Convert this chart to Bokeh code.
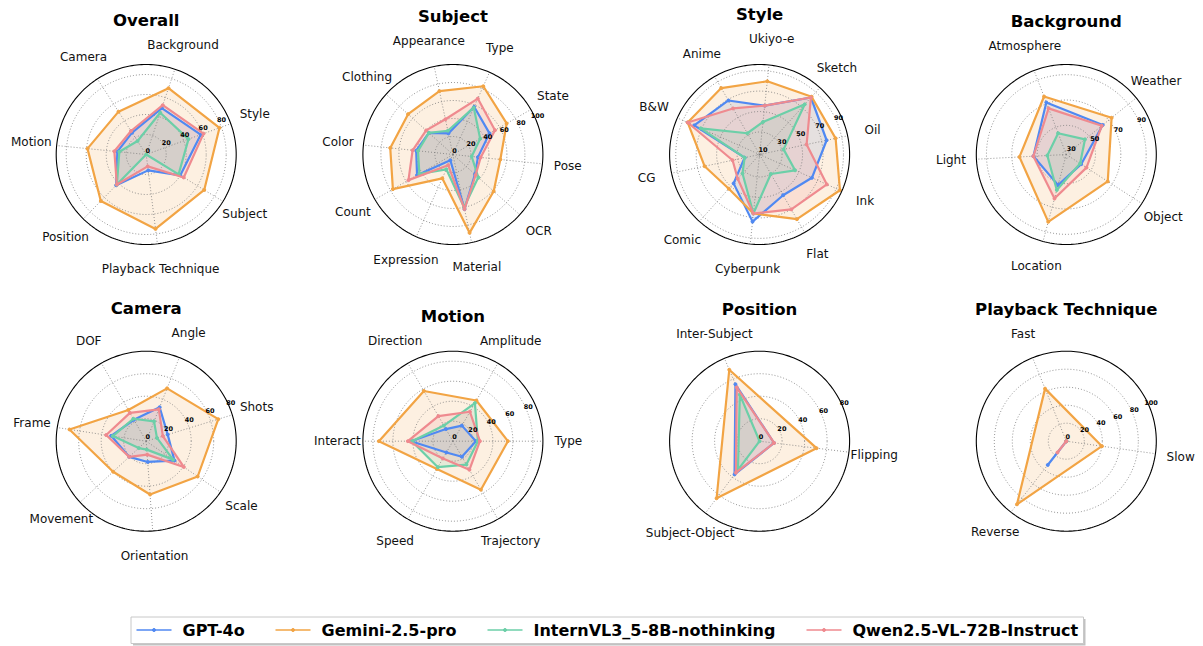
import numpy as np
from bokeh.plotting import figure
from bokeh.models import Range1d
from bokeh.core.properties import value
from bokeh.embed import file_html
from bokeh.resources import INLINE

# ---------------- data ----------------
models = ["GPT-4o", "Gemini-2.5-pro", "InternVL3_5-8B-nothinking", "Qwen2.5-VL-72B-Instruct"]
colors = ["#5089F2", "#F2A444", "#6CCFA8", "#EF8A8F"]

overall_cats = ["Style", "Background", "Camera", "Motion", "Position", "Playback Technique", "Subject"]
overall_gpt = [58, 49, 26, 29, 43, 16, 40]
overall_gemini = [78, 70, 51, 59, 65, 75, 68]
overall_intern = [45, 44, 16, 27, 42, 0, 38]
overall_qwen = [61, 52, 28, 32, 42, 12, 44]

subject_cats = ["Pose", "State", "Type", "Appearance", "Clothing", "Color", "Count", "Expression", "Material", "OCR"]
subject_gpt = [28, 47, 58, 24, 36, 41, 46, 7, 62, 33]
subject_gemini = [53, 69, 83, 72, 67, 70, 77, 29, 89, 61]
subject_intern = [21, 35, 57, 27, 36, 39, 43, 18, 60, 38]
subject_qwen = [31, 54, 68, 40, 40, 45, 57, 13, 62, 34]

style_cats = ["Oil", "Sketch", "Ukiyo-e", "Anime", "B&W", "CG", "Comic", "Cyberpunk", "Flat", "Ink"]
style_gpt = [75, 83, 56, 69, 78, 23, 46, 74, 54, 64]
style_gemini = [84, 84, 80, 83, 85, 63, 53, 66, 81, 94]
style_intern = [32, 74, 40, 32, 71, 23, 33, 66, 30, 46]
style_qwen = [55, 83, 56, 60, 85, 35, 40, 66, 70, 80]

background_cats = ["Weather", "Atmosphere", "Light", "Location", "Object"]
background_gpt = [64, 71, 53, 52, 41]
background_gemini = [73, 76, 64, 82, 66]
background_intern = [46, 45, 42, 56, 40]
background_qwen = [63, 66, 53, 63, 46]

camera_cats = ["Shots", "Angle", "DOF", "Frame", "Movement", "Orientation", "Scale"]
camera_gpt = [20, 32.5, 22, 31.5, 20.5, 18.5, 30.5]
camera_gemini = [67, 50.5, 32, 69, 40, 47.5, 55.5]
camera_intern = [10, 19, 23, 30, 9, 7.5, 29]
camera_qwen = [15.5, 30.5, 29, 36, 20.5, 12, 40.5]

motion_cats = ["Type", "Amplitude", "Direction", "Interact", "Speed", "Trajectory"]
motion_gpt = [23, 18, 14, 42, 13, 18]
motion_gemini = [55, 47, 58, 74, 32, 56]
motion_intern = [25, 44, 18, 41, 30, 27]
motion_qwen = [27, 34, 29, 45, 20, 33]

position_cats = ["Flipping", "Inter-Subject", "Subject-Object"]
position_gpt = [13, 55, 37]
position_gemini = [51, 69, 63.5]
position_intern = [0, 45, 32]
position_qwen = [13, 52, 35]

playback_cats = ["Slow", "Fast", "Reverse"]
playback_gpt = [0, 0, 33.5]
playback_gemini = [40, 63, 89]
playback_intern = [0, 0, 0]
playback_qwen = [0, 0, 16]

overall_ticks = [0, 20, 40, 60, 80]
subject_ticks = [0, 20, 40, 60, 80, 100]
style_ticks = [10, 30, 50, 70, 90]
background_ticks = [30, 50, 70, 90]
camera_ticks = [0, 20, 40, 60, 80]
motion_ticks = [0, 20, 40, 60, 80]
position_ticks = [0, 20, 40, 60, 80]
playback_ticks = [0, 20, 40, 60, 80, 100]

# (title, categories, series, first-axis angle (deg), rmin, rmax, ticks)
panels = [
    ("Overall", overall_cats, [overall_gpt, overall_gemini, overall_intern, overall_qwen], 20, 0, 90, overall_ticks),
    ("Subject", subject_cats, [subject_gpt, subject_gemini, subject_intern, subject_qwen], -6, 0, 100, subject_ticks),
    ("Style", style_cats, [style_gpt, style_gemini, style_intern, style_qwen], 12, 8, 96, style_ticks),
    ("Background", background_cats, [background_gpt, background_gemini, background_intern, background_qwen], 39, 27, 98, background_ticks),
    ("Camera", camera_cats, [camera_gpt, camera_gemini, camera_intern, camera_qwen], 17, 0, 80, camera_ticks),
    ("Motion", motion_cats, [motion_gpt, motion_gemini, motion_intern, motion_qwen], 0, 0, 90, motion_ticks),
    ("Position", position_cats, [position_gpt, position_gemini, position_intern, position_qwen], -7, 0, 80, position_ticks),
    ("Playback Technique", playback_cats, [playback_gpt, playback_gemini, playback_intern, playback_qwen], -8, 0, 100, playback_ticks),
]

# ---------------- layout ----------------
W, H = 1203, 646
p = figure(width=W, height=H, output_backend="svg", toolbar_location=None,
           x_range=Range1d(0, W), y_range=Range1d(H, 0),
           min_border=0, x_axis_type=None, y_axis_type=None)
p.grid.visible = False
p.outline_line_color = None
p.background_fill_color = "white"
p.border_fill_color = "white"

FONT = value("DejaVu Sans")
R = 90.0
centers_x = [145.7 + 306.7 * i for i in range(4)]
centers_y = [154.0, 440.7]
LAB_GAP = 25.5
RL = np.deg2rad(22.5)

for k, (title, cats, series, start, rmin, rmax, ticks) in enumerate(panels):
    cx = centers_x[k % 4]
    cy = centers_y[k // 4]
    n = len(cats)
    ang = np.deg2rad(start) + np.arange(n) * 2 * np.pi / n

    def xy(vals, cx=cx, cy=cy, rmin=rmin, rmax=rmax, ang=ang):
        r = np.clip((np.asarray(vals, float) - rmin) / (rmax - rmin), 0, None) * R
        return cx + r * np.cos(ang), cy - r * np.sin(ang)

    # fills
    for s, col in zip(series, colors):
        x, y = xy(s)
        p.patch(list(x), list(y), fill_color=col, fill_alpha=0.16, line_color=None)

    # grid circles and spokes
    th = np.linspace(0, 2 * np.pi, 241)
    gx, gy = [], []
    for t in ticks:
        if rmin < t < rmax - 1e-9:
            rr = (t - rmin) / (rmax - rmin) * R
            gx.append(list(cx + rr * np.cos(th)))
            gy.append(list(cy - rr * np.sin(th)))
    for a in ang:
        gx.append([cx, cx + R * np.cos(a)])
        gy.append([cy, cy - R * np.sin(a)])
    p.multi_line(gx, gy, line_color="#7a7a7a", line_width=0.8, line_dash="1 2")

    # series outlines
    for s, col in zip(series, colors):
        x, y = xy(s)
        p.line(list(x) + [x[0]], list(y) + [y[0]], line_color=col, line_width=2.2, line_join="round")
        p.scatter(list(x), list(y), size=3, marker="circle", fill_color=col, line_color=col)

    # outer spine
    p.line(list(cx + R * np.cos(th)), list(cy - R * np.sin(th)), line_color="black", line_width=1.1)

    # radial tick labels
    tx, ty, tt = [], [], []
    for t in ticks:
        if t < rmin:
            continue
        rr = (t - rmin) / (rmax - rmin) * R
        tx.append(cx + rr * np.cos(RL) + 1.5)
        ty.append(cy - rr * np.sin(RL) - 4.5)
        tt.append(str(t))
    p.text(tx, ty, text=tt, text_font=FONT, text_font_size=value("6.5px"), text_font_style="bold",
           text_align="center", text_baseline="middle", text_color="black")

    # category labels
    lx = cx + (R + LAB_GAP) * np.cos(ang)
    ly = cy - (R + LAB_GAP) * np.sin(ang) - 0.5
    p.text(list(lx), list(ly), text=list(cats), text_font=FONT, text_font_size=value("12px"),
           text_align="center", text_baseline="middle", text_color="#111111")

    # title
    p.text([cx], [float(ly.min()) - 24.5], text=[title], text_font=FONT, text_font_size=value("16.5px"),
           text_font_style="bold", text_align="center", text_baseline="middle", text_color="black")

# ---------------- legend ----------------
bx0, bx1, by0, by1 = 130.5, 1083, 616.5, 643
p.quad(left=[bx0 + 2], right=[bx1 + 2], top=[by0 + 2], bottom=[by1 + 2],
       fill_color="#9a9a9a", fill_alpha=0.6, line_color=None)
p.quad(left=[bx0], right=[bx1], top=[by0], bottom=[by1],
       fill_color="white", line_color="#c8c8c8", line_width=1)
leg_line_x0 = [136, 275, 487, 806]
leg_y = 629.5
for name, col, x0 in zip(models, colors, leg_line_x0):
    p.line([x0, x0 + 35], [leg_y, leg_y], line_color=col, line_width=1.6)
    p.scatter([x0 + 17.5], [leg_y], size=3, marker="circle", fill_color=col, line_color=col)
    p.text([x0 + 46], [leg_y], text=[name], text_font=FONT, text_font_size=value("16px"),
           text_font_style="bold", text_align="left", text_baseline="middle", text_color="black")

open("out.html", "w").write(file_html(p, INLINE))
